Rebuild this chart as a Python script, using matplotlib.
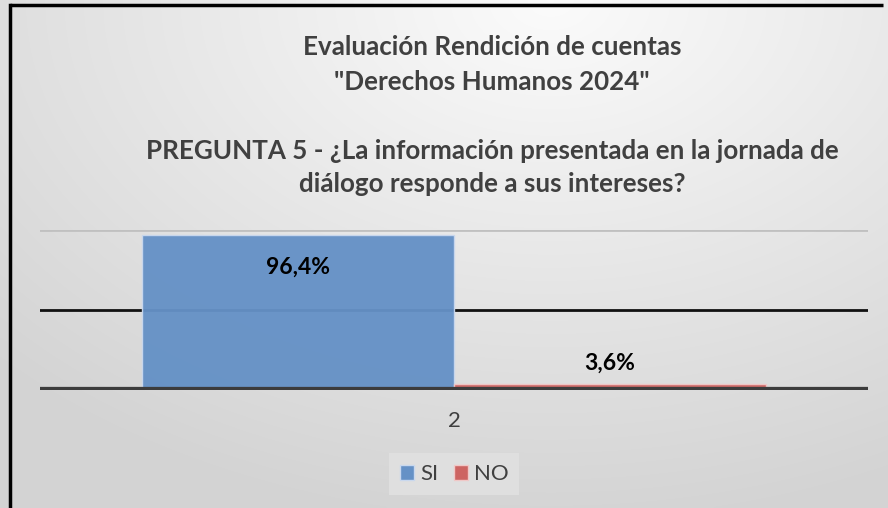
import numpy as np
import matplotlib
matplotlib.use("Agg")
import matplotlib.pyplot as plt

# data
series = ["SI", "NO"]
values = [0.964, 0.036]
labels = ["96,4%", "3,6%"]
category = "2"
colors = ["#6591c6", "#cd6462"]
edge_colors = ["#c9d8ee", "#f0c8c7"]

title_lines = ["Evaluación Rendición de cuentas", "\"Derechos Humanos 2024\""]
question_lines = ["PREGUNTA 5 - ¿La información presentada en la jornada de",
                  "diálogo responde a sus intereses?"]

plt.rcParams['font.family'] = ['Lato', 'DejaVu Sans']

W, H = 888, 508
fig = plt.figure(figsize=(W / 100, H / 100), dpi=100)

# background gradient
bg = fig.add_axes([0, 0, 1, 1], zorder=-10)
yy, xx = np.mgrid[0:1:200j, 0:1:350j]
dist = np.sqrt(((xx - 0.62) * 1.2) ** 2 + (yy * 1.0) ** 2)
shade = np.clip(0.985 - 0.15 * dist, 0.83, 1.0)
bg.imshow(np.dstack([shade, shade, shade]), extent=[0, 1, 0, 1], origin='upper',
          aspect='auto', interpolation='bilinear')
bg.set_xlim(0, 1)
bg.set_ylim(0, 1)
bg.axis('off')
# border (top and left visible)
bg.plot([10 / W, 883 / W], [1 - 4.5 / H, 1 - 4.5 / H], color='black', lw=2.5,
        solid_capstyle='butt')
bg.plot([10 / W, 10 / W], [0, 1 - 4.5 / H], color='black', lw=2.5)

# titles
for txt, ypx in zip(title_lines + question_lines, [47, 82, 151, 184]):
    fig.text(492 / W, 1 - ypx / H, txt, ha='center', va='center',
             fontsize=18.7, fontweight='bold', color='#404040')

ax = fig.add_axes([40 / W, 118 / H, 828 / W, 160.5 / H])
ax.patch.set_alpha(0)
ax.set_xlim(-0.5, 0.5)
ax.set_ylim(0, 1)

# gridlines
ax.axhline(1.0, color='#c0c0c0', lw=2, zorder=0)
ax.axhline(0.5, color='#111111', lw=2, zorder=0)

bw = 0.3768
x0 = 0
offsets = [-bw / 2, bw / 2]
for s, v, c, ec, off in zip(series, values, colors, edge_colors, offsets):
    ax.bar(x0 + off, v, width=bw, color=c, edgecolor=ec, linewidth=1,
           alpha=0.96, zorder=2, label=s)

ax.axhline(0, color='#3c3c3c', lw=4.5, zorder=3)

# data labels
ax.text(offsets[0], values[0] - 0.2, labels[0], ha='center', va='center',
        fontsize=16.5, fontweight='bold', color='black')
ax.text(offsets[1], values[1] + 0.13, labels[1], ha='center', va='center',
        fontsize=16.5, fontweight='bold', color='black')

for sp in ax.spines.values():
    sp.set_visible(False)
ax.set_yticks([])
ax.set_xticks([0])
ax.set_xticklabels([category], fontsize=16, color='#404040')
ax.tick_params(axis='x', length=0, pad=15)

handles = [plt.Rectangle((0, 0), 1, 1, facecolor=c, edgecolor=ec)
           for c, ec in zip(colors, edge_colors)]
leg = fig.legend(handles, series, loc='center', bbox_to_anchor=(454 / W, 1 - 474 / H),
                 ncol=2, frameon=True, fontsize=16, handlelength=0.65, handleheight=0.65,
                 handletextpad=0.25, columnspacing=0.7, borderpad=0.5, fancybox=False)
leg.get_frame().set_facecolor('#e2e2e2')
leg.get_frame().set_edgecolor('none')
for t in leg.get_texts():
    t.set_color('#404040')

fig.savefig("out.png", dpi=100)
